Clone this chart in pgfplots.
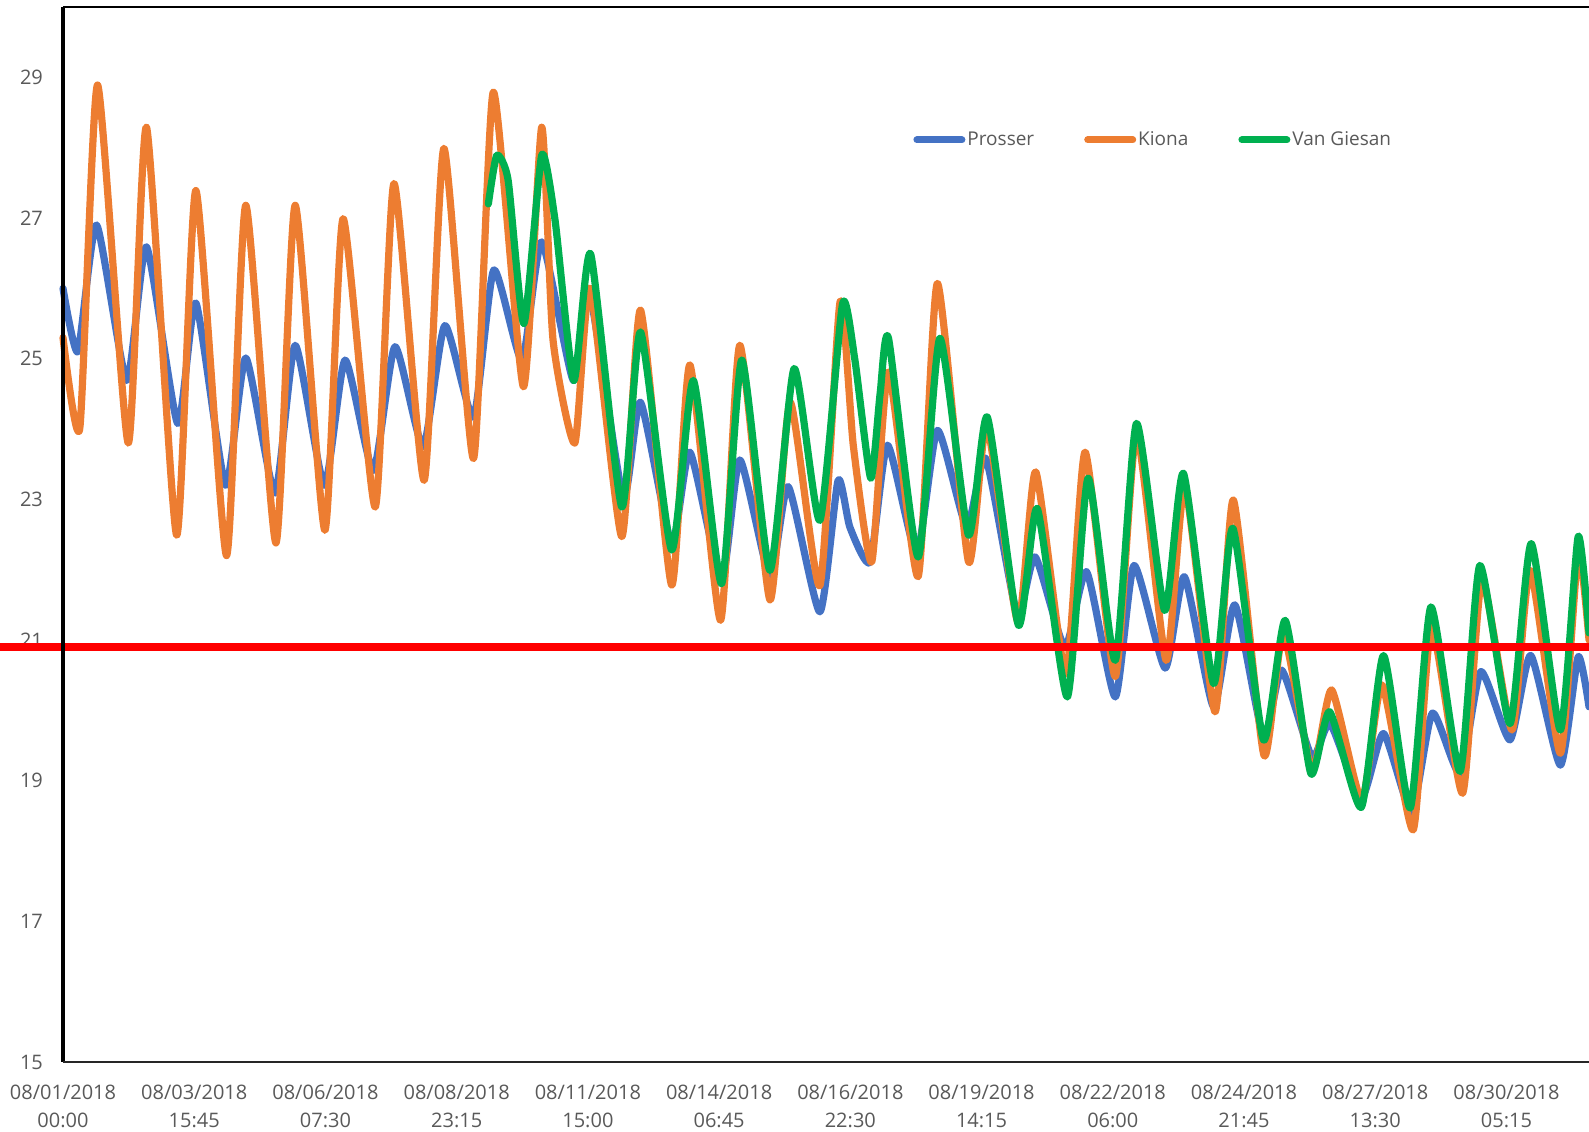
\documentclass[border=0pt]{standalone}
\usepackage{fontspec}
\setmainfont{Open Sans}
\usepackage{pgfplots}
\usepackage{pgfplotstable}
\pgfplotsset{compat=1.18}

\definecolor{prosser}{HTML}{4472C4}
\definecolor{kiona}{HTML}{ED7D31}
\definecolor{vangiesan}{HTML}{00B050}
\definecolor{ticktext}{HTML}{595959}

% Water temperature, daily lows and highs (x = days since 08/01/2018 00:00)
\pgfplotstableread{
day temp
0.00 26.00
0.30 25.10
0.68 26.90
1.29 24.69
1.69 26.59
2.32 24.08
2.69 25.79
3.29 23.20
3.70 25.01
4.29 23.09
4.70 25.19
5.29 23.20
5.71 24.98
6.28 23.41
6.72 25.17
7.29 23.75
7.73 25.47
8.31 24.17
8.72 26.26
9.29 24.98
9.69 26.66
10.33 24.69
10.67 25.88
11.34 23.03
11.69 24.38
12.32 22.37
12.69 23.67
13.33 21.85
13.70 23.56
14.31 21.90
14.68 23.18
15.32 21.40
15.69 23.27
15.93 22.60
16.34 22.11
16.69 23.77
17.28 22.23
17.70 23.98
18.29 22.61
18.68 23.58
19.31 21.38
19.68 22.18
20.28 20.90
20.72 21.97
21.30 20.19
21.68 22.06
22.31 20.60
22.70 21.90
23.29 20.05
23.72 21.50
24.30 19.62
24.67 20.57
25.28 19.34
25.65 19.81
26.28 18.75
26.73 19.67
27.30 18.56
27.72 19.96
28.28 19.10
28.70 20.55
29.29 19.58
29.71 20.78
30.31 19.22
30.67 20.76
30.89 20.05
}\prosser

\pgfplotstableread{
day temp
0.00 25.30
0.34 24.01
0.70 28.89
1.32 23.80
1.69 28.29
2.30 22.49
2.69 27.39
3.31 22.20
3.70 27.18
4.31 22.38
4.70 27.18
5.30 22.56
5.67 26.99
6.32 22.89
6.70 27.49
7.31 23.27
7.71 27.99
8.31 23.58
8.71 28.79
9.32 24.60
9.69 28.29
9.92 25.26
10.36 23.80
10.67 26.00
11.31 22.47
11.69 25.69
12.32 21.78
12.69 24.91
13.31 21.28
13.70 25.19
14.31 21.57
14.72 24.38
15.32 21.77
15.73 25.81
16.00 23.75
16.37 22.11
16.71 24.81
17.31 21.90
17.70 26.07
18.33 22.11
18.70 24.05
19.33 21.25
19.69 23.39
20.30 20.52
20.69 23.67
21.30 20.48
21.73 23.94
22.33 20.71
22.71 23.18
23.32 19.98
23.69 22.99
24.31 19.36
24.70 21.09
25.28 19.15
25.68 20.29
26.29 18.72
26.70 20.36
27.33 18.30
27.70 21.19
28.33 18.82
28.72 21.85
29.33 19.72
29.70 21.99
30.31 19.39
30.67 22.23
30.89 21.00
}\kiona

\pgfplotstableread{
day temp
8.61 27.20
8.78 27.89
9.01 27.54
9.33 25.50
9.69 27.89
9.96 26.97
10.34 24.69
10.68 26.49
11.31 22.89
11.69 25.38
12.32 22.28
12.76 24.69
13.33 21.80
13.74 24.98
14.31 21.99
14.80 24.86
15.32 22.70
15.78 25.78
16.03 24.98
16.35 23.30
16.54 24.50
16.71 25.29
17.31 22.18
17.75 25.29
18.33 22.49
18.71 24.17
19.34 21.21
19.72 22.87
20.33 20.19
20.75 23.30
21.30 20.71
21.73 24.08
22.30 21.42
22.68 23.37
23.29 20.38
23.68 22.59
24.30 19.58
24.74 21.28
25.26 19.10
25.64 19.98
26.28 18.62
26.73 20.78
27.27 18.61
27.69 21.47
28.28 19.13
28.68 22.06
29.29 19.81
29.72 22.37
30.31 19.72
30.67 22.47
30.89 21.10
}\vangiesan

\begin{document}
\begin{tikzpicture}
\begin{axis}[
  scale only axis,
  width=763pt, height=527.5pt,
  xmin=0, xmax=30.89,
  ymin=15, ymax=30,
  clip=false,
  axis line style={draw=none},
  major tick length=0pt,
  ytick={15,17,...,29},
  xtick={0,2.65625,5.3125,7.96875,10.625,13.28125,15.9375,18.59375,21.25,23.90625,26.5625,29.21875},
  xticklabels={{08/01/2018\\00:00},{08/03/2018\\15:45},{08/06/2018\\07:30},{08/08/2018\\23:15},
    {08/11/2018\\15:00},{08/14/2018\\06:45},{08/16/2018\\22:30},{08/19/2018\\14:15},
    {08/22/2018\\06:00},{08/24/2018\\21:45},{08/27/2018\\13:30},{08/30/2018\\05:15}},
  /pgf/number format/assume math mode=true,
  tick label style={font=\fontsize{10}{14}\selectfont, text=ticktext},
  xticklabel style={align=center, yshift=-8pt},
  yticklabel style={xshift=-6.5pt},
  legend columns=-1,
  legend style={at={(0.557,0.874)}, anchor=west, draw=none, fill=none,
    inner sep=0pt, font=\fontsize{9.5}{11}\selectfont, text=ticktext,
    nodes={inner xsep=1pt},
    /tikz/every even column/.append style={column sep=24pt}},
  legend image code/.code={\draw[#1, line width=3.5pt, line cap=round] (1.75pt,0pt) -- (24.25pt,0pt);},
  every axis plot/.append style={line width=3.6pt, line join=round, line cap=round, smooth, tension=0.35},
]
\addplot[prosser] table[x=day, y=temp] {\prosser};
\addlegendentry{Prosser}
\addplot[kiona] table[x=day, y=temp] {\kiona};
\addlegendentry{Kiona}
\addplot[vangiesan] table[x=day, y=temp] {\vangiesan};
\addlegendentry{Van Giesan}

% threshold line, running out past the left edge of the frame
\draw[red, line width=4pt] ([xshift=-40pt]axis cs:0,20.9) -- (axis cs:30.89,20.9);

% frame: left, top and bottom edges
\draw[black, line width=1.6pt] (rel axis cs:0,0) -- (rel axis cs:0,1);
\draw[black, line width=1.4pt] (rel axis cs:0,1) -- (rel axis cs:1,1);
\draw[black!85, line width=0.9pt] (rel axis cs:0,0) -- (rel axis cs:1,0);

\coordinate (bl) at (rel axis cs:0,0);
\coordinate (tr) at (rel axis cs:1,1);
\end{axis}
\pgfresetboundingbox
\path[use as bounding box] ([xshift=-31.5pt,yshift=-35pt]bl) rectangle ([yshift=3.5pt]tr);
\end{tikzpicture}
\end{document}
